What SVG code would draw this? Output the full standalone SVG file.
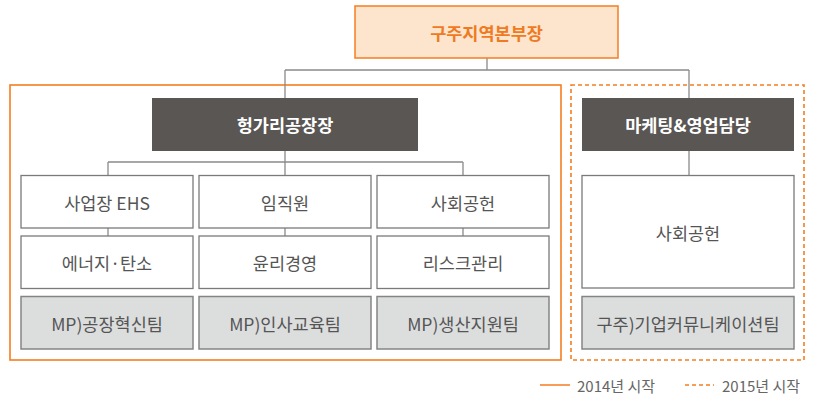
<svg xmlns="http://www.w3.org/2000/svg" width="817" height="399" viewBox="0 0 817 399">
<style>
text{font-family:"Noto Sans CJK KR","Noto Sans",sans-serif;text-anchor:middle;dominant-baseline:central}
.w rect{fill:#fff;stroke:#7a7a7a;stroke-width:1.3}
.g rect{fill:#dcdddd;stroke:#858585;stroke-width:1.5}
.w text,.g text{font-size:17.5px;fill:#555}
.d rect{fill:#595653}
.d text{font-size:17.5px;fill:#fff;font-weight:bold}
.c{fill:none;stroke:#8a8a8a;stroke-width:1.3}
.leg{font-size:15px;fill:#666;text-anchor:start}
</style>
<rect x="10" y="85" width="551" height="275" fill="none" stroke="#f47d20" stroke-width="1.6"/>
<rect x="571" y="85" width="233" height="275" fill="none" stroke="#f47d20" stroke-width="1.6" stroke-dasharray="4,3"/>
<g id="connectors" class="c">
<path d="M487,58V70M285,70H689M285,70V98M689,70V98"/>
<path d="M285,151V162M108,162H463M108,162V175M285,162V175M463,162V175"/>
<path d="M108,228V236M285,228V236M463,228V236"/>
<path d="M689,151V175"/>
</g>
<g id="top">
<rect x="355" y="6" width="263" height="52" fill="#fde4cd" stroke="#f47d20" stroke-width="1.5"/>
<text x="486.5" y="32" style="font-size:17.5px;fill:#ef7a1f;font-weight:bold">구주지역본부장</text>
</g>
<g id="hungary" class="d"><rect x="152" y="98" width="266" height="53"/><text x="285" y="124.5">헝가리공장장</text></g>
<g id="marketing" class="d"><rect x="582" y="98" width="212" height="53"/><text x="688" y="124.5">마케팅&amp;영업담당</text></g>
<g id="n1" class="w"><rect x="21" y="175.5" width="172" height="52.5"/><text x="107" y="202">사업장 EHS</text></g>
<g id="n2" class="w"><rect x="199" y="175.5" width="172" height="52.5"/><text x="285" y="202">임직원</text></g>
<g id="n3" class="w"><rect x="377" y="175.5" width="172" height="52.5"/><text x="463" y="202">사회공헌</text></g>
<g id="n4" class="w"><rect x="21" y="236" width="172" height="52.5"/><text x="107" y="262.5">에너지·탄소</text></g>
<g id="n5" class="w"><rect x="199" y="236" width="172" height="52.5"/><text x="285" y="262.5">윤리경영</text></g>
<g id="n6" class="w"><rect x="377" y="236" width="172" height="52.5"/><text x="463" y="262.5">리스크관리</text></g>
<g id="n7" class="g"><rect x="21" y="296.5" width="172" height="52.5"/><text x="107" y="323">MP)공장혁신팀</text></g>
<g id="n8" class="g"><rect x="199" y="296.5" width="172" height="52.5"/><text x="285" y="323">MP)인사교육팀</text></g>
<g id="n9" class="g"><rect x="377" y="296.5" width="172" height="52.5"/><text x="463" y="323">MP)생산지원팀</text></g>
<g id="n10" class="w"><rect x="582" y="175.5" width="212" height="112.5"/><text x="688" y="232">사회공헌</text></g>
<g id="n11" class="g"><rect x="582" y="296.5" width="212" height="52.5"/><text x="688" y="323">구주)기업커뮤니케이션팀</text></g>
<g id="legend">
<line x1="540" y1="385" x2="570" y2="385" stroke="#f47d20" stroke-width="1.5"/>
<text class="leg" x="577" y="385">2014년 시작</text>
<line x1="685" y1="385" x2="714" y2="385" stroke="#f47d20" stroke-width="1.5" stroke-dasharray="4,3"/>
<text class="leg" x="722" y="385">2015년 시작</text>
</g>
</svg>
